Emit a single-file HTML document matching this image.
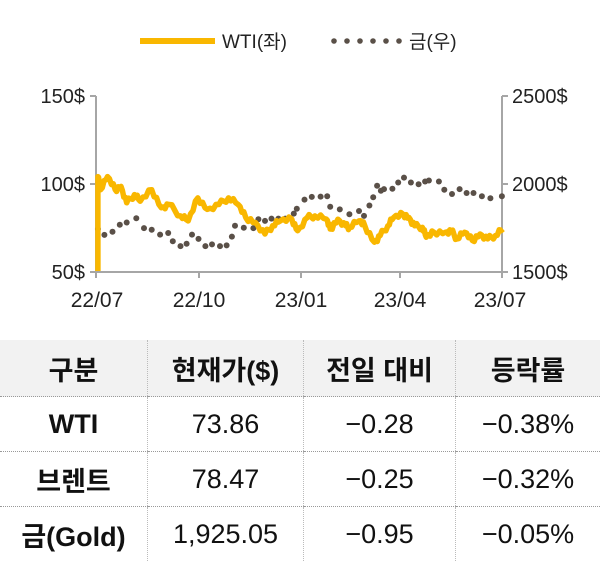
<!DOCTYPE html><html><head><meta charset="utf-8"><style>
body{margin:0;width:600px;height:561px;background:#fff;font-family:"Liberation Sans","Noto Sans CJK KR",sans-serif;overflow:hidden;position:relative}
table{position:absolute;left:0;top:340px;width:600px;border-collapse:collapse;font-size:27px;color:#111}
td{text-align:center;border-left:1px dotted #bbb;border-bottom:1px dotted #999;padding:0;height:54px}
td:first-child{border-left:none}
tr.h td{background:#f2f2f2;height:56px;font-weight:bold}
tr td:first-child{font-weight:bold}
</style></head><body>
<svg id="s" width="600" height="330" style="position:absolute;left:0;top:0" font-family="Liberation Sans,Noto Sans CJK KR,sans-serif">
<line x1="140" y1="41" x2="215" y2="41" stroke="#F9B700" stroke-width="6"/>
<text x="222" y="48" font-size="19" fill="#222">WTI(좌)</text>
<g fill="#5a5048"><circle cx="334" cy="41" r="2.8"/><circle cx="347" cy="41" r="2.8"/><circle cx="360" cy="41" r="2.8"/><circle cx="373" cy="41" r="2.8"/><circle cx="386" cy="41" r="2.8"/><circle cx="399" cy="41" r="2.8"/></g>
<text x="409" y="48" font-size="19" fill="#222">금(우)</text>
<g stroke="#a6a6a6" stroke-width="2" fill="none">
<line x1="96" y1="96" x2="96" y2="272"/><line x1="502" y1="96" x2="502" y2="272"/><line x1="96" y1="272" x2="502" y2="272"/>
<line x1="90" y1="96" x2="96" y2="96"/><line x1="90" y1="184" x2="96" y2="184"/><line x1="90" y1="272" x2="96" y2="272"/>
<line x1="502" y1="96" x2="508" y2="96"/><line x1="502" y1="184" x2="508" y2="184"/><line x1="502" y1="272" x2="508" y2="272"/>
<line x1="199" y1="272" x2="199" y2="278"/><line x1="301" y1="272" x2="301" y2="278"/><line x1="400" y1="272" x2="400" y2="278"/><line x1="96" y1="272" x2="96" y2="278"/><line x1="502" y1="272" x2="502" y2="278"/>
</g>
<g font-size="20" fill="#222">
<text x="85" y="103" text-anchor="end">150$</text><text x="85" y="191" text-anchor="end">100$</text><text x="85" y="279" text-anchor="end">50$</text>
<text x="512" y="103">2500$</text><text x="512" y="191">2000$</text><text x="512" y="279">1500$</text>
<g text-anchor="middle" font-size="21"><text x="97" y="307">22/07</text><text x="199" y="307">22/10</text><text x="301" y="307">23/01</text><text x="400" y="307">23/04</text><text x="500" y="307">23/07</text></g>
</g>
<g id="gold" fill="#5a5048"></g>
<polyline id="wti" fill="none" stroke="#F9B700" stroke-width="5.5" stroke-linejoin="round"/>
</svg>
<table>
<tr class="h"><td style="width:147px">구분</td><td style="width:155px">현재가($)</td><td style="width:151px">전일 대비</td><td>등락률</td></tr>
<tr><td>WTI</td><td>73.86</td><td>−0.28</td><td>−0.38%</td></tr>
<tr><td>브렌트</td><td>78.47</td><td>−0.25</td><td>−0.32%</td></tr>
<tr><td style="border-bottom:none">금(Gold)</td><td style="border-bottom:none">1,925.05</td><td style="border-bottom:none">−0.95</td><td style="border-bottom:none">−0.05%</td></tr>
</table>
<script>
function tx(x){return 96+(x-250)*0.384}function ty(y){return 96+(y-44)*0.3277}
var w=[[255,578],[255,290],[262,330],[280,290],[300,330],[315,320],[330,370],[350,345],[365,365],[395,330],[420,385],[440,375],[470,410],[490,425],[515,355],[540,390],[570,375],[595,355],[620,375],[640,415],[665,430],[690,465],[710,440],[730,425],[760,420],[775,455],[800,415],[820,410],[850,420],[860,450],[880,420],[900,440],[910,445],[935,425],[950,440],[975,490],[990,470],[1010,440],[1025,415],[1050,405],[1065,415],[1080,440],[1100,445],[1110,475],[1130,460],[1160,460],[1175,455],[1190,480],[1210,460],[1230,485],[1250,465],[1270,480],[1290,470],[1310,450]];
var pts=[tx(255)+","+ty(578)];
for(var i=1;i<w.length-1;i++){var a=w[i],b=w[i+1];for(var k=0;k<4;k++){var t=k/4;var x=tx(a[0]+(b[0]-a[0])*t),y=ty(a[1]+(b[1]-a[1])*t);if(k>0)y+=(((i*4+k)*7)%5-2)*1.3;pts.push(x.toFixed(1)+","+y.toFixed(1));}}
pts.push(tx(1310)+","+ty(450));
document.getElementById("wti").setAttribute("points",pts.join(" "));
var g=[[255,450],[272,468],[293,458],[312,437],[330,430],[355,417],[375,447],[395,452],[417,467],[438,462],[450,487],[470,502],[486,495],[500,467],[517,480],[535,502],[552,497],[573,502],[590,500],[604,473],[612,440],[635,446],[660,447],[673,420],[690,425],[707,418],[725,418],[743,418],[765,403],[773,388],[793,360],[812,352],[835,351],[852,350],[860,382],[885,390],[910,405],[935,395],[948,410],[962,378],[972,353],[982,318],[992,333],[1000,328],[1022,327],[1037,308],[1052,293],[1070,308],[1090,313],[1107,305],[1117,302],[1143,305],[1157,330],[1177,343],[1197,328],[1215,340],[1233,340],[1255,350],[1277,356],[1307,350]];
var s="";g.forEach(function(p){s+='<circle cx="'+tx(p[0]).toFixed(1)+'" cy="'+ty(p[1]).toFixed(1)+'" r="3"/>'});
document.getElementById("gold").innerHTML=s;
</script>
</body></html>
